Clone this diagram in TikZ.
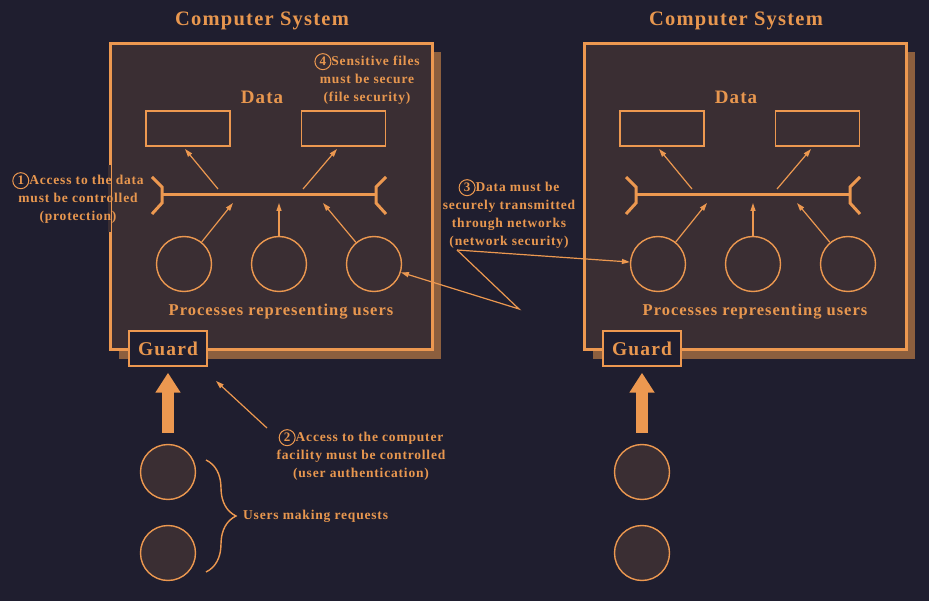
\documentclass[tikz,border=0pt]{standalone}
\usepackage{fontspec}
\setmainfont{Liberation Serif}
\newfontfamily\spaced[LetterSpace=6]{Liberation Serif}
\usetikzlibrary{arrows.meta,decorations.pathreplacing,calc}
\definecolor{bg}{HTML}{1F1E2F}
\definecolor{boxfill}{HTML}{3A2E33}
\definecolor{org}{HTML}{EC9850}
\definecolor{shadowc}{HTML}{8C5F3E}
\definecolor{txt}{HTML}{E8974F}
\newcommand{\cnum}[1]{\tikz[baseline=(n.base)]\node[draw=org,circle,line width=1pt,inner sep=0pt,minimum size=16pt,text=txt,font=\bfseries\fontsize{13}{13}\selectfont](n){#1};}
\tikzset{
  sysbox/.style={draw=org,fill=boxfill,line width=3pt,minimum width=322pt,minimum height=306pt,inner sep=0pt},
  titlelbl/.style={text=txt,font=\spaced\bfseries\fontsize{20.5}{22}\selectfont},
  datalbl/.style={text=txt,font=\spaced\bfseries\fontsize{19}{21}\selectfont},
  databox/.style={draw=org,fill=boxfill,line width=1.5pt,minimum width=84pt,minimum height=35pt,inner sep=0pt},
  bus/.style={draw=org,line width=3pt},
  arr/.style={draw=org,line width=1.2pt,-{Triangle[length=8pt,width=5pt]}},
  proc/.style={circle,draw=org,fill=boxfill,line width=1.4pt,minimum size=55pt,inner sep=0pt},
  proclbl/.style={text=txt,font=\spaced\bfseries\fontsize{16.5}{18}\selectfont},
  guardbox/.style={draw=org,fill=bg,line width=1.5pt,minimum width=78pt,minimum height=35pt,inner sep=0pt,text=txt,font=\spaced\bfseries\fontsize{19.5}{21}\selectfont},
  user/.style={circle,draw=org,fill=boxfill,line width=1.4pt,minimum size=55pt,inner sep=0pt},
  big/.style={draw=org,line width=12pt,-{Triangle[length=20pt,width=24pt]}},
  note/.style={text=txt,align=center,font=\spaced\bfseries\fontsize{13.5}{18}\selectfont,inner sep=0pt}
}
\begin{document}
\begin{tikzpicture}[x=1pt,y=-1pt]
\fill[bg] (0,0) rectangle (929,601);
\useasboundingbox (0,0) rectangle (929,601);
\foreach \s/\n in {0/L,474/R}{
\begin{scope}[xshift={\s*1pt}]
  \fill[shadowc] (119,52) rectangle (441,359);
  \node[sysbox,anchor=north west] (box\n) at (108.5,42.5) {};
  \node[titlelbl] (t\n) at (262,21) {Computer System};
  \node[datalbl] (dl\n) at (262,97) {Data};
  \node[databox] (da\n) at (188,128.5) {};
  \node[databox] (db\n) at (343.5,128.5) {};
  \coordinate (bl\n) at (162,195);
  \coordinate (br\n) at (376,195);
  \draw[bus] (bl\n) -- (br\n);
  \draw[bus,line join=miter] (152,177) -- (162,187) -- (162,203) -- (152,214);
  \draw[bus,line join=miter] (386,177) -- (376,187) -- (376,203) -- (386,214);
  \coordinate (ua\n) at (218,189);
  \coordinate (ha\n) at (185,149);
  \coordinate (ub\n) at (303,189);
  \coordinate (hb\n) at (337,149);
  \draw[arr] (ua\n) -- (ha\n);
  \draw[arr] (ub\n) -- (hb\n);
  \node[proc] (p\n1) at (184,264) {};
  \node[proc] (p\n2) at (279,264) {};
  \node[proc] (p\n3) at (374,264) {};
  \coordinate (q\n1) at (233,203);
  \coordinate (q\n2) at (279,203);
  \coordinate (q\n3) at (323,203);
  \draw[arr] (p\n1) -- (q\n1);
  \draw[arr] (p\n2) -- (q\n2);
  \draw[arr] (p\n3) -- (q\n3);
  \node[proclbl] (pl\n) at (281,312) {Processes representing users};
  \node[guardbox] (g\n) at (168,348.5) {Guard};
  \node[user] (u\n1) at (168,472) {};
  \node[user] (u\n2) at (168,553) {};
  \draw[big,shorten <=11pt,shorten >=6pt] (u\n1) -- (g\n);
\end{scope}
}
% gap in left border behind note 1
\fill[bg] (105,165) rectangle (108.3,232);
\fill[boxfill] (108.3,165) rectangle (111,232);
% brace and users label
\coordinate (bt) at (206,460);
\coordinate (bb) at (206,572);
\draw[org,line width=1.4pt,decorate,decoration={brace,amplitude=30pt}] (bt) -- (bb);
\node[note,anchor=west] (ulab) at (243,516) {Users making requests};
% notes
\node[note] (n1) at (78,198) {\cnum{1}Access to the data\\must be controlled\\(protection)};
\node[note] (n4) at (367,79) {\cnum{4}Sensitive files\\must be secure\\(file security)};
\node[note] (n3) at (509,214) {\cnum{3}Data must be\\securely transmitted\\through networks\\(network security)};
\node[note] (n2) at (361,455) {\cnum{2}Access to the computer\\facility must be controlled\\(user authentication)};
% note 2 arrow
\coordinate (c2) at (267,428);
\coordinate (h2) at (216,381);
\draw[arr] (c2) -- (h2);
% note 3 arrows
\coordinate (c3) at (457,250);
\coordinate (v3) at (519,309);
\draw[arr] (c3) -- (pR1);
\draw[arr] (c3) -- (v3) -- (pL3);
\end{tikzpicture}
\end{document}
